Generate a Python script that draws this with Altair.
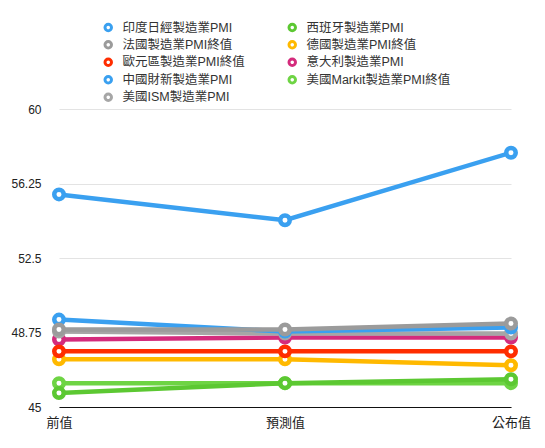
import altair as alt
import pandas as pd

periods = ["前值", "預測值", "公布值"]

series = [
    "印度日經製造業PMI",
    "法國製造業PMI終值",
    "歐元區製造業PMI終值",
    "中國財新製造業PMI",
    "美國ISM製造業PMI",
    "西班牙製造業PMI",
    "德國製造業PMI終值",
    "意大利製造業PMI",
    "美國Markit製造業PMI終值",
]

india = [55.7, 54.4, 57.8]
france = [48.9, 48.9, 49.2]
euro = [47.8, 47.8, 47.8]
china = [49.4, 48.8, 49.0]
us_ism = [48.8, 48.7, 48.7]
spain = [45.7, 46.2, 46.4]
germany = [47.4, 47.4, 47.1]
italy = [48.4, 48.5, 48.5]
us_markit = [46.2, 46.2, 46.2]

values = [india, france, euro, china, us_ism, spain, germany, italy, us_markit]

colors = ["#3AA0F0", "#9B9B9B", "#FF2D00", "#3AA0F0", "#A6A6A6",
          "#5CC832", "#FFB900", "#D42B7C", "#6ED444"]

y_ticks = [45, 48.75, 52.5, 56.25, 60]

rows = []
for s, vals in zip(series, values):
    for p, v in zip(periods, vals):
        rows.append({"series": s, "period": p, "value": v})
df = pd.DataFrame(rows)

FONT = "Liberation Sans, Noto Sans CJK TC, sans-serif"

color = alt.Color(
    "series:N",
    scale=alt.Scale(domain=series, range=colors),
    legend=alt.Legend(
        title=None,
        orient="none",
        legendX=43,
        legendY=-88,
        columns=2,
        symbolType="circle",
        symbolSize=42,
        symbolStrokeWidth=3,
        symbolFillColor="white",
        labelFont=FONT,
        labelFontSize=12.5,
        labelColor="#333333",
        labelOffset=8,
        columnPadding=38,
        rowPadding=-1.5,
        padding=0,
    ),
)

x = alt.X(
    "period:N",
    sort=periods,
    scale=alt.Scale(type="point", padding=0),
    axis=alt.Axis(title=None, labelAngle=0, ticks=False, domain=True,
                  domainColor="#111111", domainWidth=1.2, grid=False,
                  labelPadding=9, labelFontSize=13, labelFont=FONT,
                  labelColor="#222222"),
)
y = alt.Y(
    "value:Q",
    scale=alt.Scale(domain=[45, 60], nice=False, zero=False),
    axis=alt.Axis(title=None, values=y_ticks, labelExpr="datum.value + ''",
                  ticks=False, domain=False, grid=True, gridColor="#E3E3E3",
                  labelPadding=18, labelFontSize=12, labelFont=FONT,
                  labelColor="#222222"),
)

base = alt.Chart(df).encode(x=x, y=y, color=color)

layers = []
for s in reversed(series):
    b = base.transform_filter(alt.datum.series == s)
    layers.append(b.mark_line(strokeWidth=4.5))
    layers.append(b.mark_point(filled=False, fill="white", size=90,
                               strokeWidth=4.5, opacity=1, shape="circle"))

chart = alt.layer(*layers).properties(
    width=452,
    height=298,
    background="white",
    autosize=alt.AutoSizeParams(type="none"),
    padding={"left": 51, "top": 101, "right": 26, "bottom": 28},
).configure_view(stroke=None).configure_axisX(grid=False).configure_axisY(
    domain=False
)

chart.save("out.html", embed_options={"renderer": "svg", "actions": False})
